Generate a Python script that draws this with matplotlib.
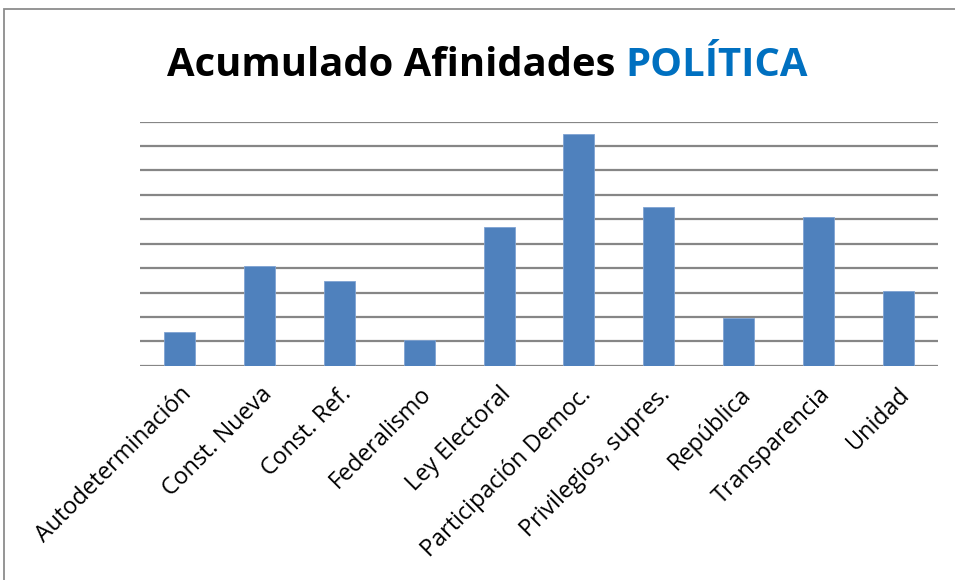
import matplotlib.pyplot as plt
from matplotlib.patches import Rectangle

# -------------------------
# Data
# -------------------------
categories = ['Autodeterminación', 'Const. Nueva', 'Const. Ref.', 'Federalismo',
              'Ley Electoral', 'Participación Democ.', 'Privilegios, supres.',
              'República', 'Transparencia', 'Unidad']
values = [1.37, 4.07, 3.46, 1.04, 5.68, 9.5, 6.5, 1.95, 6.08, 3.06]
grid_levels = list(range(0, 11))

bar_color = '#4F81BD'
grid_color = '#868686'

plt.rcParams['font.family'] = ['Open Sans', 'DejaVu Sans']

fig = plt.figure(figsize=(9.55, 5.8), dpi=100)

# outer chart frame (only top/left visible in the reference)
fig.patches.append(Rectangle((4 / 955, -0.1), 1.2, (580 - 9) / 580 + 0.1,
                             transform=fig.transFigure, fill=False,
                             edgecolor='#8C8C8C', linewidth=1.3))

ax = fig.add_axes([140 / 955, 214.3 / 580, 798 / 955, 244 / 580])
x = range(len(categories))
ax.bar(x, values, width=0.39, color=bar_color, edgecolor='#7FA3D3',
       linewidth=0.6, zorder=3)

for g in grid_levels:
    ax.axhline(g, color=grid_color, linewidth=1.6, zorder=1)

ax.set_xlim(-0.5, len(categories) - 0.5)
ax.set_ylim(0, 10)
ax.set_yticks([])
ax.set_xticks(list(x))
ax.set_xticklabels(categories, rotation=45, ha='right', va='top',
                   rotation_mode='anchor', fontsize=16.8)
ax.tick_params(axis='x', length=0, pad=12)
for s in ax.spines.values():
    s.set_visible(False)

# title with two colours
t1 = fig.text(167 / 955, 1 - 76 / 580, 'Acumulado Afinidades ',
              fontsize=28.8, fontweight='bold', color='black',
              ha='left', va='baseline')
fig.canvas.draw()
bb = t1.get_window_extent()
fig.text(bb.x1 / fig.bbox.width, 1 - 76 / 580, 'POLÍTICA',
         fontsize=28.8, fontweight='bold', color='#0070C0',
         ha='left', va='baseline')

fig.savefig('out.png', dpi=100)
